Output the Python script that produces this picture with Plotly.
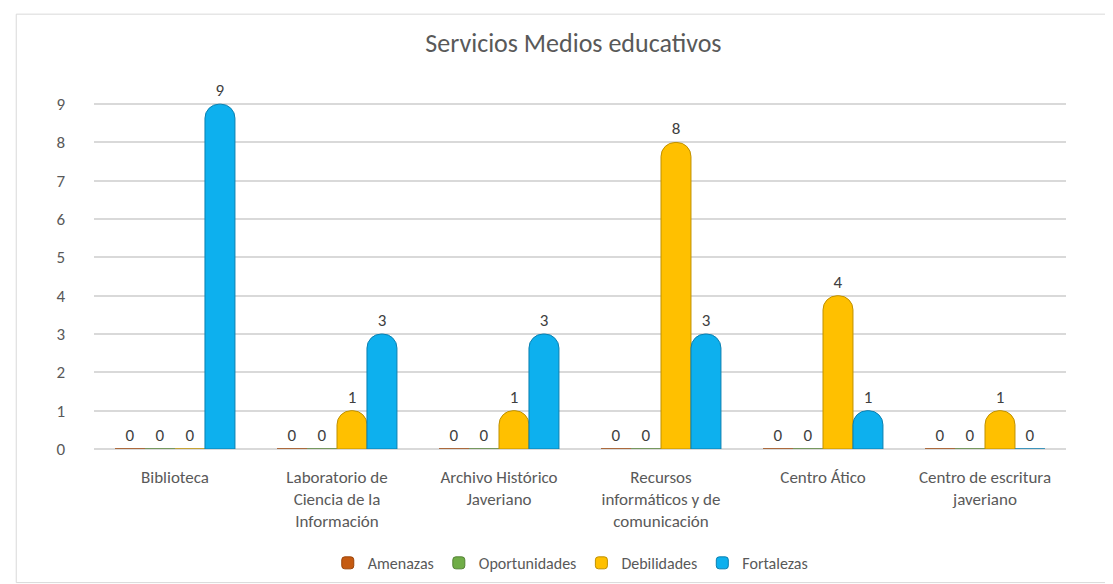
import plotly.graph_objects as go

categorias = [
    "Biblioteca",
    "Laboratorio de<br>Ciencia de la<br>Información",
    "Archivo Histórico<br>Javeriano",
    "Recursos<br>informáticos y de<br>comunicación",
    "Centro Ático",
    "Centro de escritura<br>javeriano",
]
amenazas = [0, 0, 0, 0, 0, 0]
oportunidades = [0, 0, 0, 0, 0, 0]
debilidades = [0, 1, 1, 8, 4, 1]
fortalezas = [9, 3, 3, 3, 1, 0]

series = [
    ("Amenazas", amenazas, "#C55A11", "#9C4409"),
    ("Oportunidades", oportunidades, "#70AD47", "#548235"),
    ("Debilidades", debilidades, "#FFC000", "#BF9000"),
    ("Fortalezas", fortalezas, "#0DB0EE", "#0A7FB0"),
]

fig = go.Figure()
for nombre, valores, color, borde in series:
    fig.add_trace(go.Bar(
        name=nombre, x=categorias, y=valores,
        marker=dict(color=color, line=dict(color=borde, width=1), cornerradius=14),
        text=valores, texttemplate="%{text}", textposition="outside",
        textfont=dict(size=17, color="#404040"), cliponaxis=False,
    ))

fig.update_layout(
    width=1113, height=584,
    margin=dict(l=86, r=55, t=77, b=137),
    paper_bgcolor="white", plot_bgcolor="white",
    font=dict(family="Carlito, Calibri, Lato, sans-serif", color="#595959"),
    title=dict(text="Servicios Medios educativos", x=0.508, xanchor="center",
               y=0.94, yanchor="middle", font=dict(size=26, color="#595959")),
    barmode="group", bargap=0.26, bargroupgap=0,
    legend=dict(orientation="h", x=0.49, xanchor="center", y=-0.313, yanchor="middle",
                font=dict(size=16, color="#595959"), itemwidth=30),
    showlegend=True,
)
fig.update_yaxes(range=[0, 9.5], dtick=1, showgrid=True, gridcolor="#D9D9D9", gridwidth=1.5,
                 zeroline=True, zerolinecolor="#D9D9D9", zerolinewidth=1.5,
                 tickfont=dict(size=17, color="#595959"), ticklabelstandoff=28,
                 showline=False)
fig.update_xaxes(tickfont=dict(size=17, color="#595959"), ticklabelstandoff=16,
                 showline=False, showgrid=False)

fig.add_shape(type="rect", xref="paper", yref="paper",
              x0=-0.080, x1=1.0535, y0=-0.367, y1=1.1946,
              line=dict(color="#D9D9D9", width=1), layer="below")

fig.write_html("out.html")
